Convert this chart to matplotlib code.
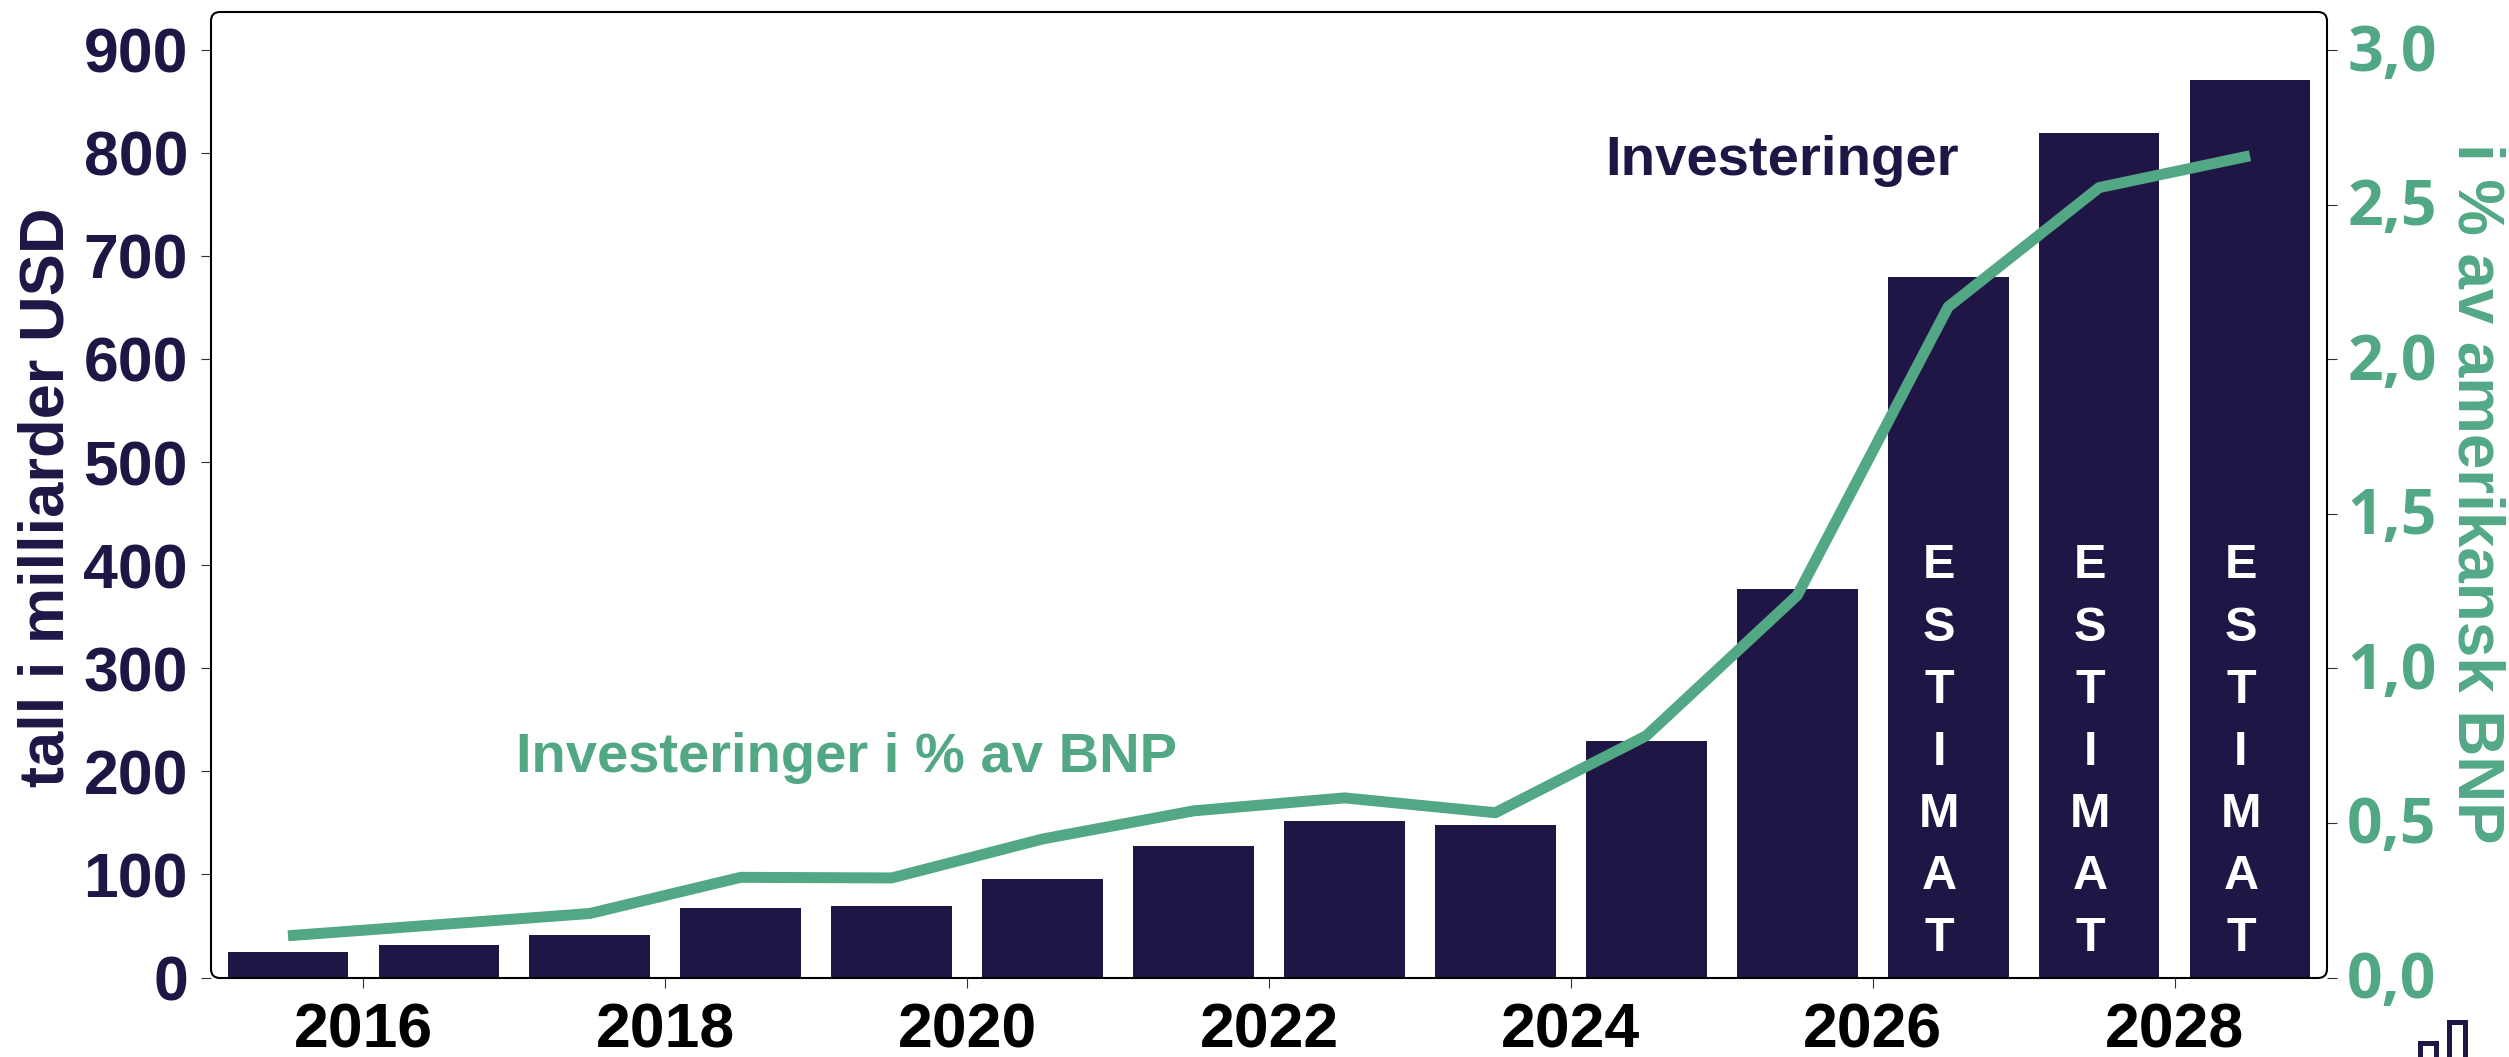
import matplotlib
matplotlib.use("Agg")
import matplotlib.pyplot as plt
from matplotlib.patches import FancyBboxPatch, Rectangle
from matplotlib.transforms import IdentityTransform, ScaledTranslation

# --- data ---
years = [2015.5 + i for i in range(14)]
investments = [24.6, 32, 40.8, 67, 69, 95.5, 127.8, 151.5, 147.6, 229, 376.6, 679.6, 819, 870.6]
share_gdp = [0.135, 0.171, 0.207, 0.324, 0.322, 0.448, 0.539, 0.581, 0.533, 0.782, 1.236, 2.169, 2.555, 2.658]
left_ticks = [0, 100, 200, 300, 400, 500, 600, 700, 800, 900]
right_ticks = [0.0, 0.5, 1.0, 1.5, 2.0, 2.5, 3.0]
right_labels = ["0,0", "0,5", "1,0", "1,5", "2,0", "2,5", "3,0"]
x_ticks = [2016, 2018, 2020, 2022, 2024, 2026, 2028]
estimate_years = [2026.5, 2027.5, 2028.5]

NAVY = "#1F1646"
GREEN = "#52A885"
W, H = 2509, 1057
L, R, T, B = 211, 2327, 12, 977.5

plt.rcParams["font.family"] = ["Liberation Sans", "DejaVu Sans"]
fig = plt.figure(figsize=(W / 100, H / 100), dpi=100, facecolor="white")
ax = fig.add_axes([L / W, (H - B) / H, (R - L) / W, (B - T) / H])
ax.set_xlim(2014.99, 2029.01)
ax.set_ylim(0, 936.5)
ax.bar(years, investments, width=0.8, color=NAVY, zorder=2)
ax.set_xticks(x_ticks)
ax.set_xticklabels([str(y) for y in x_ticks], fontsize=45, fontweight="bold", color="black")
ax.set_yticks(left_ticks)
ax.set_yticklabels([str(v) for v in left_ticks], fontsize=45, fontweight="bold", color=NAVY)
ax.tick_params(axis="x", length=7.5, width=0.8, pad=10, color="#333333")
ax.tick_params(axis="y", length=7.5, width=0.8, pad=9, color="#333333")

ax2 = ax.twinx()
ax2.set_ylim(0, 3.123)
ax2.plot(years, share_gdp, color=GREEN, lw=7.9, solid_joinstyle="round", solid_capstyle="butt", zorder=3)
ax2.set_yticks(right_ticks)
ax2.set_yticklabels(right_labels, fontsize=45, fontweight="bold", color=GREEN, family="Open Sans")
ax2.tick_params(axis="y", length=7.5, width=0.8, pad=7, color="#333333")
shift = ScaledTranslation(0, 2.5 / 72, fig.dpi_scale_trans)
for lab in ax2.get_yticklabels():
    lab.set_transform(lab.get_transform() + shift)

for a in (ax, ax2):
    for s in a.spines.values():
        s.set_visible(False)

# rounded frame
fig.add_artist(FancyBboxPatch((L, H - B - 0.5), R - L, B - T + 0.5,
                              boxstyle="round,pad=0,rounding_size=9",
                              transform=IdentityTransform(), fill=False,
                              ec="black", lw=1.5, zorder=5))

ax2.text(2025.40, 2.64, "Investeringer", fontsize=40.5, fontweight="bold", color=NAVY, ha="center", va="center")
ax2.text(2019.2, 0.71, "Investeringer i % av BNP", fontsize=40.4, fontweight="bold", color=GREEN, ha="center", va="center")

for x in estimate_years:
    ax2.text(x - 0.06, 0.728, "\n".join("ESTIMAT"), fontsize=35, fontweight="bold", color="white",
             ha="center", va="center", linespacing=1.49, zorder=4)

fig.text(47 / W, 1 - 497 / H, "tall i milliarder USD", rotation=90, fontsize=45.5, fontweight="bold",
         color=NAVY, ha="center", va="center")
fig.text(2475 / W, 1 - 493 / H, "i % av amerikansk BNP", rotation=270, fontsize=45.8, fontweight="bold",
         color=GREEN, ha="center", va="center")

# corner logo, cut by the lower edge
for x0, y0 in [(2420, 1043), (2449, 1022)]:
    fig.add_artist(Rectangle((x0, H - 1070), 16, 1070 - y0, transform=IdentityTransform(),
                             fill=False, ec=NAVY, lw=3.6))

fig.savefig("out.png", dpi=100)
